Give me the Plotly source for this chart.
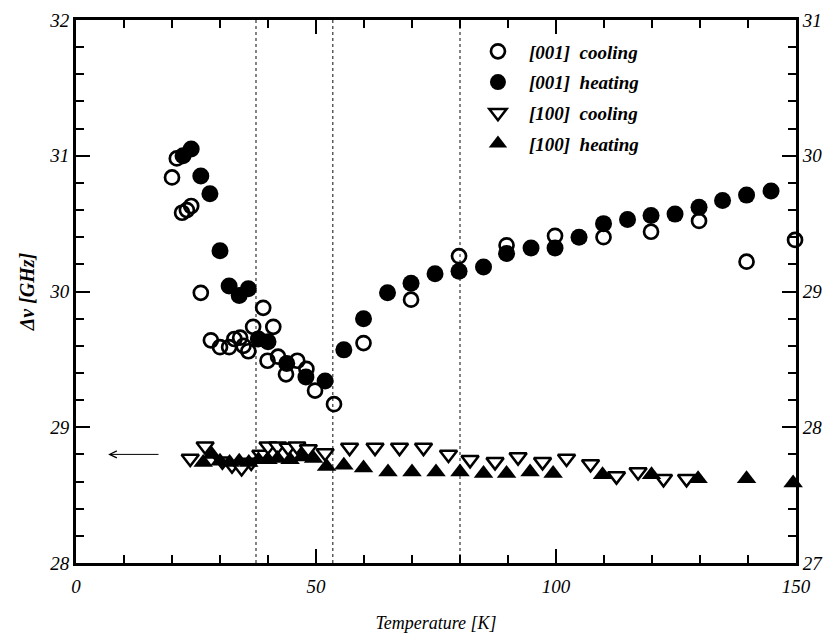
import plotly.graph_objects as go

# ---- data ----
c001_T = [20, 21, 22.1, 23.1, 24, 26, 28.1, 30, 31.9, 33, 34.2, 34.9, 35.9, 36.9, 39, 39.9,
          41.1, 42.1, 43.75, 46.1, 48, 49.8, 53.75, 59.9, 69.8, 79.8, 89.7, 99.8, 109.9,
          119.8, 129.8, 139.7, 149.8]
c001_v = [30.84, 30.98, 30.58, 30.60, 30.63, 29.99, 29.64, 29.59, 29.59, 29.65, 29.66, 29.60,
          29.56, 29.74, 29.88, 29.49, 29.74, 29.52, 29.39, 29.49, 29.43, 29.27, 29.17, 29.62,
          29.94, 30.26, 30.34, 30.41, 30.40, 30.44, 30.52, 30.22, 30.38]

h001_T = [22.3, 24, 26, 27.9, 30, 31.9, 34, 35.9, 38, 40, 43.9, 47.9, 51.9, 55.8, 59.9, 64.9,
          69.8, 74.8, 79.8, 84.9, 89.7, 94.8, 99.8, 104.8, 109.9, 114.9, 119.8, 124.8, 129.8,
          134.7, 139.7, 144.8]
h001_v = [31.00, 31.05, 30.85, 30.72, 30.30, 30.04, 29.97, 30.02, 29.65, 29.63, 29.47, 29.37,
          29.34, 29.57, 29.80, 29.99, 30.06, 30.13, 30.15, 30.18, 30.28, 30.32, 30.32, 30.40,
          30.50, 30.53, 30.56, 30.57, 30.62, 30.67, 30.71, 30.74]

c100_T = [23.8, 26.9, 30.5, 32.5, 34.5, 36.5, 38.5, 40, 42, 44.2, 46, 48.4, 51.9, 57, 62.3,
          67.4, 72.4, 77.6, 82.1, 87.3, 92.1, 97.2, 102.2, 107.2, 112.6, 117.1, 122.4, 127.2]
c100_v = [28.77, 28.86, 28.75, 28.72, 28.70, 28.74, 28.80, 28.86, 28.86, 28.85, 28.86, 28.84,
          28.81, 28.85, 28.85, 28.85, 28.85, 28.80, 28.76, 28.745, 28.78, 28.745, 28.77, 28.73,
          28.64, 28.67, 28.62, 28.62]

h100_T = [26.5, 28.3, 30, 32, 34, 36, 38, 40, 42, 44.6, 47, 49.5, 52.2, 55.8, 59.9, 65, 70,
          75, 80, 84.9, 89.7, 94.6, 99.4, 109.7, 119.9, 129.6, 139.7, 149.4]
h100_v = [28.74, 28.80, 28.75, 28.74, 28.75, 28.74, 28.76, 28.76, 28.77, 28.76, 28.78, 28.77,
          28.71, 28.72, 28.70, 28.67, 28.67, 28.67, 28.67, 28.66, 28.66, 28.67, 28.66, 28.65,
          28.65, 28.62, 28.62, 28.59]

series_names = ["[001]\u00a0\u00a0cooling", "[001]\u00a0\u00a0heating",
                "[100]\u00a0\u00a0cooling", "[100]\u00a0\u00a0heating"]

transition_T = [37.5, 53.5, 80]
arrow_y = 28.8
arrow_from_T, arrow_to_T = 17.5, 6.7

FONT = "Liberation Serif"

fig = go.Figure()

styles = [
    dict(symbol="circle-open", size=14, color="black", line=dict(width=2.7, color="black")),
    dict(symbol="circle", size=17, color="black"),
    dict(symbol="triangle-down", size=15, color="white", line=dict(width=2.5, color="black")),
    dict(symbol="triangle-up", size=17, color="black", line=dict(width=0)),
]
data = [(c001_T, c001_v), (h001_T, h001_v), (c100_T, c100_v), (h100_T, h100_v)]
for i, ((xs, ys), mk) in enumerate(zip(data, styles)):
    fig.add_trace(go.Scatter(x=xs, y=ys, mode="markers", name=series_names[i], marker=mk,
                             legendgroup=f"g{i}", cliponaxis=False))

# invisible trace for right axis
fig.add_trace(go.Scatter(x=[None], y=[None], yaxis="y2", showlegend=False, hoverinfo="skip"))

for t in transition_T:
    fig.add_shape(type="line", x0=t, x1=t, y0=0, y1=1, xref="x", yref="paper",
                  line=dict(color="#333", width=1.2, dash="dot"), layer="below")

fig.add_annotation(x=arrow_to_T, y=arrow_y, ax=arrow_from_T, ay=arrow_y, axref="x", ayref="y",
                   xref="x", yref="y", showarrow=True, arrowhead=5, arrowsize=1.4,
                   arrowwidth=1, arrowcolor="black", text="")

tickfont = dict(family=FONT, size=19, style="italic", color="black")
common = dict(showgrid=False, zeroline=False, showline=True, linecolor="black", linewidth=3,
              ticks="inside", ticklen=14, tickwidth=2, tickcolor="black", tickfont=tickfont,
              automargin=False)

fig.update_layout(
    width=829, height=635,
    margin=dict(l=68, r=41, t=12, b=80),
    plot_bgcolor="white", paper_bgcolor="white",
    xaxis=dict(range=[0, 150], dtick=50, tick0=0, mirror="ticks", ticklabelstandoff=4,
               minor=dict(dtick=10, ticks="inside", ticklen=8, tickwidth=1.5, tickcolor="black"),
               title=dict(text="Temperature [K]", standoff=21,
                          font=dict(family=FONT, size=18, style="italic", color="black")),
               **common),
    yaxis=dict(range=[28, 32], dtick=1, tick0=28,
               minor=dict(dtick=0.2, ticks="inside", ticklen=8, tickwidth=1.5, tickcolor="black"),
               title=dict(text="Δν [GHz]", standoff=10,
                          font=dict(family=FONT, size=20, style="italic", weight="bold",
                                    color="black")),
               **common),
    yaxis2=dict(range=[27, 31], dtick=1, tick0=27, overlaying="y", side="right", anchor="x",
                minor=dict(dtick=0.2, ticks="inside", ticklen=8, tickwidth=1.5,
                           tickcolor="black"),
                **common),
    showlegend=True,
    legend=dict(x=0.543, y=0.977, xanchor="left", yanchor="top", bgcolor="rgba(0,0,0,0)",
                traceorder="grouped", tracegroupgap=3, itemwidth=52,
                font=dict(family=FONT, size=19, style="italic", weight="bold", color="black")),
)

fig.write_html("out.html")
